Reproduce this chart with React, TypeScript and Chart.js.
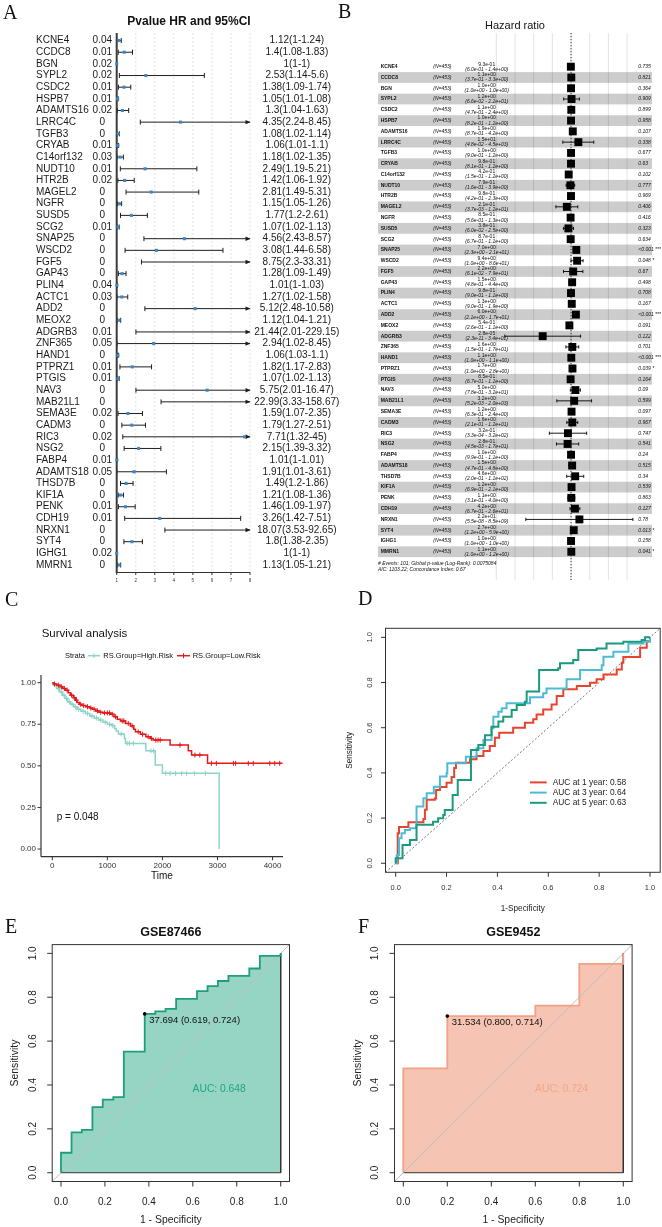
import React, { useEffect, useRef } from 'react';
import { Chart, registerables } from 'chart.js';

Chart.register(...registerables);

const SANS = '"Liberation Sans", Arial, Helvetica, sans-serif';
const SERIF = '"Liberation Serif", "Times New Roman", Times, serif';

/* ---------- A: univariate Cox regression, HR (95% CI) ---------- */
const genes = ['KCNE4', 'CCDC8', 'BGN', 'SYPL2', 'CSDC2', 'HSPB7', 'ADAMTS16', 'LRRC4C', 'TGFB3', 'CRYAB', 'C14orf132', 'NUDT10', 'HTR2B', 'MAGEL2', 'NGFR', 'SUSD5', 'SCG2', 'SNAP25', 'WSCD2', 'FGF5', 'GAP43', 'PLIN4', 'ACTC1', 'ADD2', 'MEOX2', 'ADGRB3', 'ZNF365', 'HAND1', 'PTPRZ1', 'PTGIS', 'NAV3', 'MAB21L1', 'SEMA3E', 'CADM3', 'RIC3', 'NSG2', 'FABP4', 'ADAMTS18', 'THSD7B', 'KIF1A', 'PENK', 'CDH19', 'NRXN1', 'SYT4', 'IGHG1', 'MMRN1'];
const pUni = [0.04, 0.01, 0.02, 0.02, 0.01, 0.01, 0.02, 0, 0, 0.01, 0.03, 0.01, 0.02, 0, 0, 0, 0.01, 0, 0, 0, 0, 0.04, 0.03, 0, 0, 0.01, 0.05, 0, 0.01, 0.01, 0, 0, 0.02, 0, 0.02, 0, 0.01, 0.05, 0, 0, 0.01, 0.01, 0, 0, 0.02, 0];
const hrUni = [1.12, 1.4, 1, 2.53, 1.38, 1.05, 1.3, 4.35, 1.08, 1.06, 1.18, 2.49, 1.42, 2.81, 1.15, 1.77, 1.07, 4.56, 3.08, 8.75, 1.28, 1.01, 1.27, 5.12, 1.12, 21.44, 2.94, 1.06, 1.82, 1.07, 5.75, 22.99, 1.59, 1.79, 7.71, 2.15, 1.01, 1.91, 1.49, 1.21, 1.46, 3.26, 18.07, 1.8, 1, 1.13];
const loUni = [1, 1.08, 1, 1.14, 1.09, 1.01, 1.04, 2.24, 1.02, 1.01, 1.02, 1.19, 1.06, 1.49, 1.05, 1.2, 1.02, 2.43, 1.44, 2.3, 1.09, 1, 1.02, 2.48, 1.04, 2.01, 1.02, 1.03, 1.17, 1.02, 2.01, 3.33, 1.07, 1.27, 1.32, 1.39, 1, 1.01, 1.2, 1.08, 1.09, 1.42, 3.53, 1.38, 1, 1.05];
const hiUni = [1.24, 1.83, 1, 5.6, 1.74, 1.08, 1.63, 8.45, 1.14, 1.1, 1.35, 5.21, 1.92, 5.31, 1.26, 2.61, 1.13, 8.57, 6.58, 33.31, 1.49, 1.03, 1.58, 10.58, 1.21, 229.15, 8.45, 1.1, 2.83, 1.13, 16.47, 158.67, 2.35, 2.51, 45, 3.32, 1.01, 3.61, 1.86, 1.36, 1.97, 7.51, 92.65, 2.35, 1, 1.21];
const uniTicks = [1, 2, 3, 4, 5, 6, 7, 8];
const UNI_MAX = 8;

/* ---------- B: multivariate Cox model forest ---------- */
const hrMulti = [0.93, 1.1, 1.0, 1.2, 1.1, 1.0, 1.9, 15, 1.0, 0.98, 0.42, 0.79, 0.98, 0.21, 0.85, 0.38, 0.87, 7.0, 9.4, 2.2, 1.5, 0.98, 1.3, 6.0, 0.54, 2.8e-5, 1.6, 1.1, 1.7, 0.85, 5.0, 3.2, 1.2, 1.6, 0.32, 0.28, 1.0, 1.5, 4.6, 1.2, 1.1, 4.2, 22, 2.7, 1.0, 1.1];
const loMulti = [0.6, 0.37, 1.0, 0.066, 0.47, 0.82, 0.87, 0.048, 0.9, 0.81, 0.15, 0.16, 0.42, 0.0037, 0.56, 0.06, 0.67, 2.3, 1.0, 0.061, 0.48, 0.9, 0.9, 2.1, 0.26, 2.3e-11, 0.15, 1.0, 1.0, 0.67, 0.78, 0.0052, 0.63, 0.21, 0.00033, 0.0045, 0.99, 0.47, 0.2, 0.69, 0.31, 0.67, 5.5e-8, 1.2, 1.0, 1.0];
const hiMulti = [1.4, 3.3, 1.0, 22, 2.4, 1.2, 4.2, 4500, 1.2, 1.2, 1.2, 3.9, 2.3, 12, 1.3, 2.5, 1.1, 21, 86, 79, 4.4, 1.1, 1.9, 17, 1.1, 34, 17, 1.1, 2.8, 1.1, 32, 2000, 2.4, 12, 320, 17, 1.1, 4.8, 110, 2.1, 4.0, 26, 8.5e9, 5.9, 1.0, 1.2];
const pMulti = ['0.735', '0.821', '0.364', '0.909', '0.899', '0.958', '0.107', '0.338', '0.677', '0.63', '0.102', '0.777', '0.969', '0.406', '0.416', '0.323', '0.634', '<0.001 ***', '0.048 *', '0.67', '0.498', '0.708', '0.167', '<0.001 ***', '0.091', '0.122', '0.701', '<0.001 ***', '0.039 *', '0.164', '0.09', '0.599', '0.097', '0.967', '0.747', '0.541', '0.24', '0.515', '0.34', '0.539', '0.863', '0.127', '0.78', '0.013 *', '0.158', '0.041 *'];
const nPatients = 453;
const multiGrid = [1e-12, 1e-9, 1e-6, 1e-3, 1, 1e3, 1e6, 1e9];
const multiFooter = ['# Events: 101; Global p-value (Log-Rank): 0.0075084', 'AIC: 1103.22; Concordance Index: 0.67'];

/* ---------- C: Kaplan-Meier by risk group ---------- */
const groupLabels = ['RS.Group=High.Risk', 'RS.Group=Low.Risk'];
const highT = [0, 30, 80, 130, 180, 230, 280, 330, 390, 450, 520, 600, 680, 760, 840, 920, 1000, 1080, 1130, 1160, 1200, 1310, 1330, 1700, 1870, 2000, 3030];
const highS = [1, 0.985, 0.965, 0.945, 0.925, 0.905, 0.885, 0.87, 0.855, 0.84, 0.828, 0.815, 0.8, 0.788, 0.775, 0.762, 0.75, 0.742, 0.725, 0.71, 0.692, 0.665, 0.635, 0.59, 0.505, 0.455, 0];
const lowT = [0, 30, 80, 140, 190, 240, 290, 330, 380, 420, 450, 490, 540, 610, 680, 730, 790, 850, 920, 1060, 1120, 1180, 1240, 1330, 1420, 1480, 1510, 1600, 1700, 1780, 1830, 2140, 2470, 2530, 2820, 4180];
const lowS = [1, 0.992, 0.985, 0.975, 0.965, 0.955, 0.94, 0.925, 0.91, 0.895, 0.88, 0.87, 0.862, 0.855, 0.848, 0.84, 0.83, 0.822, 0.818, 0.81, 0.795, 0.78, 0.77, 0.755, 0.74, 0.72, 0.705, 0.69, 0.675, 0.665, 0.655, 0.625, 0.59, 0.565, 0.515, 0.515];
const highCensT = [50, 110, 160, 210, 260, 310, 360, 420, 480, 560, 640, 720, 800, 880, 960, 1040, 1100, 1250, 1360, 1400, 1470, 1790, 1840, 2060, 2140, 2240, 2350, 2440, 2580, 2780];
const highCensS = [0.985, 0.965, 0.945, 0.925, 0.905, 0.885, 0.87, 0.855, 0.84, 0.828, 0.815, 0.8, 0.788, 0.775, 0.762, 0.75, 0.742, 0.692, 0.635, 0.635, 0.635, 0.59, 0.59, 0.455, 0.455, 0.455, 0.455, 0.455, 0.455, 0.455];
const lowCensT = [40, 110, 170, 220, 270, 350, 400, 440, 510, 570, 640, 700, 760, 820, 880, 950, 1000, 1040, 1090, 1150, 1270, 1300, 1380, 1450, 1560, 1640, 1740, 1800, 1880, 1920, 1960, 2320, 2590, 2680, 2890, 2980, 3290, 3330, 3560, 3650, 3950, 4040, 4130];
const lowCensS = [0.992, 0.985, 0.975, 0.965, 0.955, 0.925, 0.91, 0.895, 0.87, 0.862, 0.855, 0.848, 0.84, 0.83, 0.822, 0.818, 0.818, 0.818, 0.81, 0.795, 0.77, 0.77, 0.755, 0.74, 0.705, 0.69, 0.675, 0.665, 0.655, 0.655, 0.655, 0.625, 0.565, 0.565, 0.515, 0.515, 0.515, 0.515, 0.515, 0.515, 0.515, 0.515, 0.515];
const survXTicks = [0, 1000, 2000, 3000, 4000];
const survYTicks = [0, 0.25, 0.5, 0.75, 1];
const logRankP = 0.048;

/* ---------- D: time-dependent ROC ---------- */
const roc1X = [0, 0.008, 0.013, 0.05, 0.05, 0.096, 0.109, 0.115, 0.122, 0.154, 0.159, 0.174, 0.2, 0.22, 0.23, 0.237, 0.266, 0.292, 0.318, 0.345, 0.37, 0.39, 0.407, 0.462, 0.508, 0.541, 0.554, 0.58, 0.613, 0.633, 0.659, 0.712, 0.764, 0.79, 0.817, 0.869, 0.889, 0.895, 0.941, 0.961, 0.987, 1];
const roc1Y = [0, 0.133, 0.161, 0.161, 0.181, 0.181, 0.196, 0.237, 0.281, 0.287, 0.324, 0.338, 0.356, 0.382, 0.422, 0.445, 0.445, 0.46, 0.475, 0.497, 0.519, 0.556, 0.578, 0.6, 0.622, 0.637, 0.659, 0.681, 0.703, 0.74, 0.77, 0.785, 0.799, 0.814, 0.836, 0.858, 0.888, 0.913, 0.913, 0.954, 0.983, 1];
const roc3X = [0, 0.004, 0.013, 0.023, 0.036, 0.056, 0.08, 0.082, 0.101, 0.109, 0.122, 0.141, 0.15, 0.174, 0.2, 0.203, 0.266, 0.276, 0.318, 0.345, 0.37, 0.377, 0.384, 0.404, 0.417, 0.436, 0.515, 0.528, 0.58, 0.593, 0.659, 0.672, 0.718, 0.725, 0.79, 0.81, 0.817, 0.856, 0.908, 0.915, 0.974, 1];
const roc3Y = [0, 0.037, 0.111, 0.133, 0.147, 0.155, 0.162, 0.251, 0.251, 0.288, 0.31, 0.31, 0.339, 0.384, 0.398, 0.443, 0.443, 0.472, 0.509, 0.546, 0.546, 0.598, 0.649, 0.671, 0.686, 0.708, 0.708, 0.735, 0.752, 0.774, 0.774, 0.814, 0.814, 0.855, 0.855, 0.877, 0.914, 0.936, 0.936, 0.973, 0.981, 1];
const roc5X = [0, 0, 0.023, 0.027, 0.05, 0.056, 0.08, 0.082, 0.134, 0.147, 0.167, 0.187, 0.193, 0.22, 0.224, 0.24, 0.244, 0.292, 0.296, 0.318, 0.325, 0.345, 0.351, 0.37, 0.377, 0.404, 0.423, 0.456, 0.476, 0.508, 0.515, 0.541, 0.564, 0.639, 0.646, 0.698, 0.718, 0.79, 0.829, 0.895, 0.967, 0.98, 1];
const roc5Y = [0, 0.022, 0.022, 0.081, 0.081, 0.103, 0.103, 0.17, 0.17, 0.184, 0.199, 0.214, 0.236, 0.236, 0.302, 0.302, 0.369, 0.369, 0.501, 0.501, 0.523, 0.523, 0.567, 0.567, 0.604, 0.627, 0.649, 0.678, 0.701, 0.715, 0.76, 0.76, 0.855, 0.863, 0.885, 0.9, 0.944, 0.951, 0.973, 0.981, 0.988, 1, 1];
const aucYears = [1, 3, 5];
const aucTime = [0.58, 0.64, 0.63];
const timeColors = ['#e8432e', '#4dbbd5', '#1b9a7c'];
const rocTicks = [0, 0.2, 0.4, 0.6, 0.8, 1];
const ROC_MIN = -0.04;
const ROC_MAX = 1.04;

/* ---------- E / F: validation cohorts ---------- */
const gse87466X = [0, 0, 0.048, 0.095, 0.143, 0.19, 0.238, 0.286, 0.381, 0.429, 0.476, 0.524, 0.619, 0.667, 0.714, 0.762, 0.857, 0.905, 1];
const gse87466Y = [0, 0.091, 0.184, 0.195, 0.299, 0.333, 0.345, 0.552, 0.724, 0.736, 0.747, 0.793, 0.828, 0.851, 0.874, 0.897, 0.931, 0.989, 1];
const gse87466Best = [37.694, 0.619, 0.724];
const gse87466Auc = 0.648;
const gse9452X = [0, 0, 0.2, 0.6, 0.8, 1];
const gse9452Y = [0, 0.476, 0.714, 0.762, 0.952, 1];
const gse9452Best = [31.534, 0.8, 0.714];
const gse9452Auc = 0.724;

/* ---------- drawing helpers ---------- */
function seg(ctx: any, x0: number, y0: number, x1: number, y1: number) {
  ctx.beginPath();
  ctx.moveTo(x0, y0);
  ctx.lineTo(x1, y1);
  ctx.stroke();
}
function label(ctx: any, s: string, x: number, y: number, font: string, color = '#000', align = 'left', base = 'alphabetic') {
  ctx.font = font;
  ctx.fillStyle = color;
  ctx.textAlign = align;
  ctx.textBaseline = base;
  ctx.fillText(s, x, y);
}
function vlabel(ctx: any, s: string, x: number, y: number, font: string, color = '#000') {
  ctx.save();
  ctx.translate(x, y);
  ctx.rotate(-Math.PI / 2);
  label(ctx, s, 0, 0, font, color, 'center', 'middle');
  ctx.restore();
}
function sci(v: number) {
  const [m, e] = v.toExponential(1).split('e');
  const n = parseInt(e, 10);
  return `${m}e${n < 0 ? '-' : '+'}${String(Math.abs(n)).padStart(2, '0')}`;
}
const pts = (xs: number[], ys: number[]) => xs.map((v, i) => ({ x: v, y: ys[i] }));

const baseOpts = () => ({
  responsive: false,
  maintainAspectRatio: false,
  animation: false,
  devicePixelRatio: 1,
  events: [],
  plugins: { legend: { display: false }, tooltip: { enabled: false } },
});

/* ---------- A ---------- */
const forestAPlugin = {
  id: 'forestA',
  beforeDatasetsDraw(chart: any) {
    const { ctx, chartArea: a } = chart;
    const x = chart.scales.x;
    const y = chart.scales.y;
    ctx.save();
    ctx.lineWidth = 0.8;
    ctx.strokeStyle = '#cfcfcf';
    ctx.setLineDash([1.5, 2.5]);
    uniTicks.slice(1).forEach((t) => {
      const px = x.getPixelForValue(t);
      seg(ctx, px, a.top, px, a.bottom);
    });
    ctx.setLineDash([]);
    ctx.strokeStyle = '#1e1e1e';
    ctx.fillStyle = '#1e1e1e';
    ctx.lineWidth = 1;
    hrUni.forEach((_, i) => {
      const py = y.getPixelForValue(i);
      const x0 = x.getPixelForValue(loUni[i]);
      const over = hiUni[i] > UNI_MAX;
      const x1 = x.getPixelForValue(Math.min(hiUni[i], UNI_MAX));
      seg(ctx, x0, py, x1, py);
      seg(ctx, x0, py - 2.5, x0, py + 2.5);
      if (over) {
        ctx.beginPath();
        ctx.moveTo(x1 + 0.5, py);
        ctx.lineTo(x1 - 4.5, py - 2.2);
        ctx.lineTo(x1 - 4.5, py + 2.2);
        ctx.closePath();
        ctx.fill();
      } else {
        seg(ctx, x1, py - 2.5, x1, py + 2.5);
      }
    });
    const xa = x.getPixelForValue(1);
    ctx.strokeStyle = '#3c3c3c';
    ctx.lineWidth = 2;
    seg(ctx, xa, a.top, xa, a.bottom);
    ctx.lineWidth = 1;
    ctx.strokeStyle = '#333';
    seg(ctx, xa - 1, a.bottom + 0.5, x.getPixelForValue(UNI_MAX), a.bottom + 0.5);
    uniTicks.forEach((t) => {
      const px = x.getPixelForValue(t);
      seg(ctx, px, a.bottom, px, a.bottom + 3);
      label(ctx, String(t), px, a.bottom + 9, `4.5px ${SANS}`, '#333', 'center', 'middle');
    });
    ctx.restore();
  },
  afterDraw(chart: any) {
    const { ctx } = chart;
    const y = chart.scales.y;
    ctx.save();
    label(ctx, 'A', 3, 18.5, `20px ${SERIF}`, '#111');
    label(ctx, 'Pvalue HR and 95%CI', 189, 22, `bold 12px ${SANS}`, '#111', 'center', 'middle');
    genes.forEach((g, i) => {
      const py = y.getPixelForValue(i);
      label(ctx, g, 36, py, `10px ${SANS}`, '#1a1a1a', 'left', 'middle');
      label(ctx, String(pUni[i]), 102.3, py, `10px ${SANS}`, '#1a1a1a', 'center', 'middle');
      label(ctx, `${hrUni[i]}(${loUni[i]}-${hiUni[i]})`, 296.8, py, `10px ${SANS}`, '#1a1a1a', 'center', 'middle');
    });
    ctx.restore();
  },
};

function buildA(): any {
  const data = hrUni.map((v, i) => ({ x: v, y: i })).filter((p) => p.x <= UNI_MAX);
  return {
    type: 'scatter',
    data: {
      datasets: [{ data, pointStyle: 'rect', pointRadius: 2.2, backgroundColor: '#3f86c8', borderColor: '#3f86c8', borderWidth: 0, clip: false }],
    },
    options: {
      ...baseOpts(),
      layout: { padding: { left: 116.7, right: 95, top: 33, bottom: 20 } },
      scales: {
        x: { type: 'linear', display: false, min: 1, max: UNI_MAX },
        y: { type: 'linear', display: false, min: -0.65, max: 45.6, reverse: true },
      },
    },
    plugins: [forestAPlugin],
  };
}

/* ---------- B ---------- */
const forestBPlugin = {
  id: 'forestB',
  beforeDatasetsDraw(chart: any) {
    const { ctx, chartArea: a } = chart;
    const x = chart.scales.x;
    const y = chart.scales.y;
    ctx.save();
    ctx.strokeStyle = '#dcdcdc';
    ctx.lineWidth = 0.8;
    multiGrid.forEach((v) => {
      const px = x.getPixelForValue(v);
      seg(ctx, px, a.top, px, a.bottom);
    });
    ctx.fillStyle = 'rgba(0,0,0,0.2)';
    hrMulti.forEach((_, i) => {
      if (i % 2 === 1) {
        const t = y.getPixelForValue(i - 0.5);
        const b = y.getPixelForValue(i + 0.5);
        ctx.fillRect(a.left, t, a.right - a.left, b - t);
      }
    });
    ctx.restore();
  },
  afterDatasetsDraw(chart: any) {
    const { ctx, chartArea: a } = chart;
    const x = chart.scales.x;
    const y = chart.scales.y;
    ctx.save();
    ctx.strokeStyle = '#000';
    ctx.lineWidth = 0.9;
    hrMulti.forEach((_, i) => {
      const py = y.getPixelForValue(i);
      const x0 = x.getPixelForValue(loMulti[i]);
      const x1 = x.getPixelForValue(hiMulti[i]);
      seg(ctx, x0, py, x1, py);
      seg(ctx, x0, py - 1.6, x0, py + 1.6);
      seg(ctx, x1, py - 1.6, x1, py + 1.6);
    });
    const x1 = x.getPixelForValue(1);
    ctx.setLineDash([1.2, 1.8]);
    ctx.strokeStyle = '#222';
    ctx.lineWidth = 0.9;
    seg(ctx, x1, a.top, x1, a.bottom);
    ctx.setLineDash([]);
    ctx.restore();
  },
  afterDraw(chart: any) {
    const { ctx, chartArea: a } = chart;
    const y = chart.scales.y;
    ctx.save();
    label(ctx, 'B', 8, 18.3, `20px ${SERIF}`, '#111');
    label(ctx, 'Hazard ratio', (a.left + a.right) / 2, 26, `11px ${SANS}`, '#111', 'center', 'middle');
    hrMulti.forEach((v, i) => {
      const py = y.getPixelForValue(i);
      label(ctx, genes[i], a.left + 2.7, py, `bold 5px ${SANS}`, '#111', 'left', 'middle');
      label(ctx, `(N=${nPatients})`, 103.3, py, `italic 5px ${SANS}`, '#111', 'left', 'middle');
      label(ctx, sci(v), 156.7, py - 2.5, `5px ${SANS}`, '#111', 'center', 'middle');
      label(ctx, `(${sci(loMulti[i])} - ${sci(hiMulti[i])})`, 156.7, py + 2.6, `italic 5px ${SANS}`, '#111', 'center', 'middle');
      label(ctx, pMulti[i], 308.3, py, `italic 5px ${SANS}`, '#111', 'left', 'middle');
    });
    label(ctx, multiFooter[0], a.left, 563.3, `italic 5px ${SANS}`, '#111', 'left', 'middle');
    label(ctx, multiFooter[1], a.left, 569.3, `italic 5px ${SANS}`, '#111', 'left', 'middle');
    ctx.restore();
  },
};

function buildB(): any {
  return {
    type: 'scatter',
    data: {
      datasets: [{ data: pts(hrMulti, hrMulti.map((_, i) => i)), pointStyle: 'rect', pointRadius: 5.6, backgroundColor: '#000', borderColor: '#000', borderWidth: 0, clip: false }],
    },
    options: {
      ...baseOpts(),
      layout: { padding: { left: 48, right: 10, top: 33, bottom: 12 } },
      scales: {
        x: { type: 'logarithmic', display: false, min: 1e-31, max: 1e13 },
        y: { type: 'linear', display: false, min: -3.126, max: 47.62, reverse: true },
      },
    },
    plugins: [forestBPlugin],
  };
}

/* ---------- C ---------- */
const survColors = ['#8dd3c7', '#e41a1c'];

const survPlugin = {
  id: 'surv',
  afterDraw(chart: any) {
    const { ctx, chartArea: a } = chart;
    const x = chart.scales.x;
    const y = chart.scales.y;
    ctx.save();
    ctx.strokeStyle = '#333';
    ctx.lineWidth = 1.2;
    seg(ctx, a.left, a.top, a.left, a.bottom);
    seg(ctx, a.left, a.bottom, a.right, a.bottom);
    ctx.lineWidth = 1;
    survYTicks.forEach((t) => {
      const py = y.getPixelForValue(t);
      seg(ctx, a.left - 3.5, py, a.left, py);
      label(ctx, t.toFixed(2), a.left - 5, py, `8px ${SANS}`, '#333', 'right', 'middle');
    });
    survXTicks.forEach((t) => {
      const px = x.getPixelForValue(t);
      seg(ctx, px, a.bottom, px, a.bottom + 3.5);
      label(ctx, String(t), px, a.bottom + 11.6, `8px ${SANS}`, '#333', 'center');
    });
    label(ctx, 'Time', (a.left + a.right) / 2, a.bottom + 22.5, `10px ${SANS}`, '#111', 'center');
    label(ctx, 'C', 5, 26, `20px ${SERIF}`, '#111');
    label(ctx, 'Survival analysis', 41.7, 57, `11.5px ${SANS}`, '#111');
    const ly = 75.7;
    label(ctx, 'Strata', 65, ly, `7.5px ${SANS}`, '#111', 'left', 'middle');
    const keys = [
      { x0: 88, x1: 100, tx: 103.3 },
      { x0: 177, x1: 190, tx: 192.7 },
    ];
    keys.forEach((k, i) => {
      ctx.strokeStyle = survColors[i];
      ctx.lineWidth = 1.5;
      seg(ctx, k.x0, ly, k.x1, ly);
      ctx.lineWidth = 1;
      const cx = (k.x0 + k.x1) / 2;
      seg(ctx, cx, ly - 2.5, cx, ly + 2.5);
      label(ctx, groupLabels[i], k.tx, ly, `7.5px ${SANS}`, '#111', 'left', 'middle');
    });
    label(ctx, `p = ${logRankP}`, x.getPixelForValue(80), y.getPixelForValue(0.19), `10px ${SANS}`, '#111', 'left', 'middle');
    ctx.restore();
  },
};

function buildC(): any {
  const line = (t: number[], s: number[], c: string) => ({ data: pts(t, s), showLine: true, stepped: 'before', borderColor: c, borderWidth: 1.5, pointRadius: 0, fill: false });
  const marks = (t: number[], s: number[], c: string) => ({ data: pts(t, s), showLine: false, pointStyle: 'cross', pointRadius: 2.5, borderColor: c, backgroundColor: c, borderWidth: 1, clip: false });
  return {
    type: 'scatter',
    data: {
      datasets: [
        marks(lowCensT, lowCensS, survColors[1]),
        line(lowT, lowS, survColors[1]),
        marks(highCensT, highCensS, survColors[0]),
        line(highT, highS, survColors[0]),
      ],
    },
    options: {
      ...baseOpts(),
      layout: { padding: { left: 41, right: 47, top: 95, bottom: 35.3 } },
      scales: {
        x: { type: 'linear', display: false, min: -205, max: 4190 },
        y: { type: 'linear', display: false, min: -0.046, max: 1.046 },
      },
    },
    plugins: [survPlugin],
  };
}

/* ---------- D ---------- */
const timeRocPlugin = {
  id: 'timeRoc',
  afterDraw(chart: any) {
    const { ctx, chartArea: a } = chart;
    const x = chart.scales.x;
    const y = chart.scales.y;
    ctx.save();
    ctx.strokeStyle = '#333';
    ctx.lineWidth = 1;
    ctx.strokeRect(a.left, a.top, a.right - a.left, a.bottom - a.top);
    rocTicks.forEach((t) => {
      const px = x.getPixelForValue(t);
      seg(ctx, px, a.bottom, px, a.bottom + 4.5);
      label(ctx, t.toFixed(1), px, a.bottom + 17.7, `7.5px ${SANS}`, '#333', 'center');
      const py = y.getPixelForValue(t);
      seg(ctx, a.left, py, a.left - 4.5, py);
      vlabel(ctx, t.toFixed(1), a.left - 15.5, py, `7.5px ${SANS}`, '#333');
    });
    vlabel(ctx, 'Sensitivity', a.left - 35.5, (a.top + a.bottom) / 2, `8.2px ${SANS}`, '#222');
    label(ctx, '1-Specificity', (a.left + a.right) / 2, a.bottom + 36, `8.2px ${SANS}`, '#222', 'center', 'middle');
    label(ctx, 'D', 28, 25, `20px ${SERIF}`, '#111');
    const rows = [202.4, 212.6, 222.8];
    aucYears.forEach((yr, i) => {
      ctx.strokeStyle = timeColors[i];
      ctx.lineWidth = 2;
      seg(ctx, 200, rows[i], 216.7, rows[i]);
      label(ctx, `AUC at ${yr} year: ${aucTime[i].toFixed(2)}`, 222.7, rows[i], `8.4px ${SANS}`, '#222', 'left', 'middle');
    });
    ctx.restore();
  },
};

function buildD(): any {
  const curve = (xs: number[], ys: number[], c: string, order: number) => ({ data: pts(xs, ys), showLine: true, stepped: 'before', borderColor: c, borderWidth: 2, pointRadius: 0, fill: false, order });
  return {
    type: 'scatter',
    data: {
      datasets: [
        curve(roc5X, roc5Y, timeColors[2], 1),
        curve(roc3X, roc3Y, timeColors[1], 2),
        curve(roc1X, roc1Y, timeColors[0], 3),
        { data: pts([ROC_MIN, ROC_MAX], [ROC_MIN, ROC_MAX]), showLine: true, borderColor: '#555', borderWidth: 0.8, borderDash: [2, 2], pointRadius: 0, fill: false, order: 4 },
      ],
    },
    options: {
      ...baseOpts(),
      layout: { padding: { left: 55.5, right: 1.8, top: 48.3, bottom: 43.7 } },
      scales: {
        x: { type: 'linear', display: false, min: ROC_MIN, max: ROC_MAX },
        y: { type: 'linear', display: false, min: ROC_MIN, max: ROC_MAX },
      },
    },
    plugins: [timeRocPlugin],
  };
}

/* ---------- E / F ---------- */
type RocSpec = {
  id: string; title: string; letter: string; letterX: number;
  xs: number[]; ys: number[]; best: number[]; auc: number;
  line: string; fill: string; text: string; padLeft: number; padRight: number;
};

function buildRoc(s: RocSpec): any {
  const plugin = {
    id: s.id,
    afterDraw(chart: any) {
      const { ctx, chartArea: a } = chart;
      const x = chart.scales.x;
      const y = chart.scales.y;
      ctx.save();
      ctx.strokeStyle = '#333';
      ctx.lineWidth = 1;
      ctx.strokeRect(a.left, a.top, a.right - a.left, a.bottom - a.top);
      rocTicks.forEach((t) => {
        const px = x.getPixelForValue(t);
        seg(ctx, px, a.bottom, px, a.bottom + 5);
        label(ctx, t.toFixed(1), px, a.bottom + 23.5, `10px ${SANS}`, '#222', 'center');
        const py = y.getPixelForValue(t);
        seg(ctx, a.left, py, a.left - 5, py);
        vlabel(ctx, t.toFixed(1), a.left - 19, py, `10px ${SANS}`, '#222');
      });
      vlabel(ctx, 'Sensitivity', a.left - 36.7, (a.top + a.bottom) / 2, `10.4px ${SANS}`, '#222');
      label(ctx, '1 - Specificity', (a.left + a.right) / 2, a.bottom + 41.8, `10.4px ${SANS}`, '#222', 'center');
      label(ctx, s.title, (a.left + a.right) / 2, a.top - 8.6, `bold 12.5px ${SANS}`, '#111', 'center');
      label(ctx, s.letter, s.letterX, 21, `20px ${SERIF}`, '#111');
      const [thr, spec, sens] = s.best;
      const bx = x.getPixelForValue(1 - spec);
      const by = y.getPixelForValue(sens);
      label(ctx, `${thr.toFixed(3)} (${spec.toFixed(3)}, ${sens.toFixed(3)})`, bx + 4.5, by + 8.9, `9.5px ${SANS}`, '#111');
      label(ctx, `AUC: ${s.auc.toFixed(3)}`, x.getPixelForValue(0.72), y.getPixelForValue(0.38), `10.3px ${SANS}`, s.text, 'center', 'middle');
      ctx.restore();
    },
  };
  const last = s.xs.length - 1;
  return {
    type: 'scatter',
    data: {
      datasets: [
        { data: [{ x: 1 - s.best[1], y: s.best[2] }], pointRadius: 1.8, backgroundColor: '#000', borderColor: '#000', borderWidth: 0, order: 0, clip: false },
        { data: pts(s.xs, s.ys), showLine: true, stepped: 'before', borderColor: s.line, borderWidth: 1.8, pointRadius: 0, fill: false, order: 1, clip: false },
        { data: pts([s.xs[last], s.xs[last], s.xs[0]], [s.ys[last], 0, 0]), showLine: true, borderColor: '#333', borderWidth: 1, pointRadius: 0, fill: false, order: 2 },
        { data: pts([ROC_MIN, ROC_MAX], [ROC_MIN, ROC_MAX]), showLine: true, borderColor: '#bdbdbd', borderWidth: 1, pointRadius: 0, fill: false, order: 3 },
        { data: pts(s.xs, s.ys), showLine: true, stepped: 'before', borderWidth: 0, borderColor: 'rgba(0,0,0,0)', backgroundColor: s.fill, pointRadius: 0, fill: 'origin', order: 4 },
      ],
    },
    options: {
      ...baseOpts(),
      layout: { padding: { left: s.padLeft, right: s.padRight, top: 32.6, bottom: 45.5 } },
      scales: {
        x: { type: 'linear', display: false, min: ROC_MIN, max: ROC_MAX },
        y: { type: 'linear', display: false, min: ROC_MIN, max: ROC_MAX },
      },
    },
    plugins: [plugin],
  };
}

const buildE = () => buildRoc({
  id: 'rocE', title: 'GSE87466', letter: 'E', letterX: 5,
  xs: gse87466X, ys: gse87466Y, best: gse87466Best, auc: gse87466Auc,
  line: '#1f9e7c', fill: '#96d4c4', text: '#22a584', padLeft: 52.2, padRight: 40.5,
});
const buildF = () => buildRoc({
  id: 'rocF', title: 'GSE9452', letter: 'F', letterX: 28,
  xs: gse9452X, ys: gse9452Y, best: gse9452Best, auc: gse9452Auc,
  line: '#f2a087', fill: '#f6c4b2', text: '#f4a38a', padLeft: 64.5, padRight: 29.9,
});

/* ---------- layout ---------- */
function ChartBox({ left, top, width, height, build }: { left: number; top: number; width: number; height: number; build: () => any }) {
  const ref = useRef<HTMLCanvasElement>(null);
  useEffect(() => {
    const chart = new Chart(ref.current as HTMLCanvasElement, build());
    return () => chart.destroy();
  }, [build]);
  return <canvas ref={ref} width={width} height={height} style={{ position: 'absolute', left, top, width, height }} />;
}

export default function App() {
  return (
    <div style={{ position: 'absolute', left: 0, top: 0, width: 662, height: 1227, background: '#fff', overflow: 'hidden' }}>
      <ChartBox left={0} top={0} width={345} height={592} build={buildA} />
      <ChartBox left={330} top={0} width={332} height={592} build={buildB} />
      <ChartBox left={0} top={580} width={330} height={312} build={buildC} />
      <ChartBox left={330} top={580} width={332} height={336} build={buildD} />
      <ChartBox left={0} top={912} width={330} height={315} build={buildE} />
      <ChartBox left={330} top={912} width={332} height={315} build={buildF} />
    </div>
  );
}
